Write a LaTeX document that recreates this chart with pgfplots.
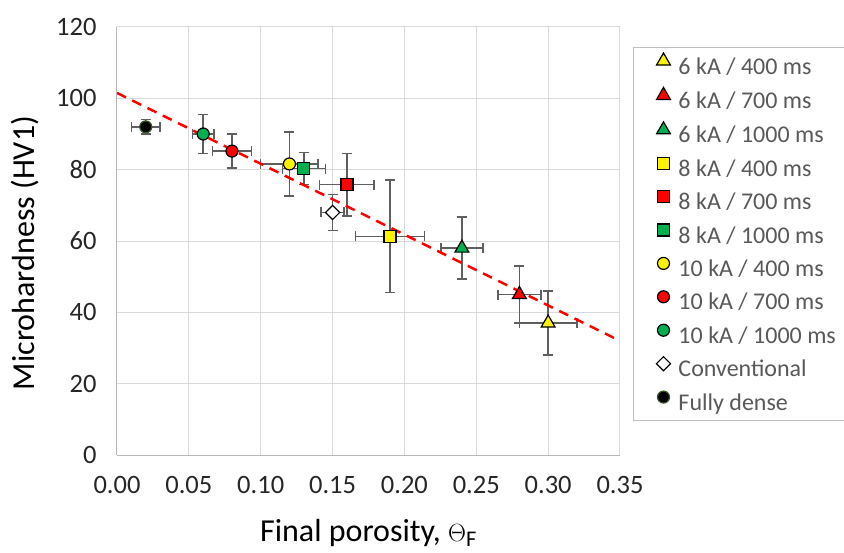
\documentclass[border=0pt]{standalone}
\usepackage{fontspec}
\setmainfont{Carlito}
\newfontfamily\serif{Liberation Serif}
\usepackage{pgfplots}
\pgfplotsset{compat=1.18}
\definecolor{egray}{HTML}{5F5F5F}
\definecolor{xgreen}{HTML}{00B050}
\definecolor{dkgreen}{HTML}{375623}
\definecolor{legtext}{HTML}{595959}
\pgfplotsset{
  eb/.style={only marks, forget plot,
    error bars/x dir=both, error bars/x explicit,
    error bars/y dir=both, error bars/y explicit,
    error bars/error bar style={line width=1.5pt, draw=egray},
    error bars/error mark options={rotate=90, line width=1.5pt, draw=egray, mark size=5pt}},
  tri/.style={only marks, mark=triangle*, mark size=8pt, mark options={fill=#1, draw=black, line width=1.2pt}},
  sq/.style={only marks, mark=square*, mark size=6pt, mark options={fill=#1, draw=black, line width=1.2pt}},
  ci/.style={only marks, mark=*, mark size=6pt, mark options={fill=#1, draw=black, line width=1.2pt}},
  dia/.style={only marks, mark=square*, mark size=5pt, mark options={fill=white, draw=black, line width=1.2pt, rotate=45}},
  dense/.style={only marks, mark=*, mark size=6pt, mark options={fill=black, draw=dkgreen, line width=1.2pt}},
}
\begin{document}
\begin{tikzpicture}
\begin{axis}[
  width=503pt, height=428pt, scale only axis,
  xmin=0, xmax=0.35, ymin=0, ymax=120,
  xtick={0,0.05,0.10,0.15,0.20,0.25,0.30,0.35},
  ytick={0,20,40,60,80,100,120},
  xticklabel style={/pgf/number format/fixed, /pgf/number format/fixed zerofill,
    /pgf/number format/precision=2, yshift=-18pt},
  /pgf/number format/assume math mode=true,
  tick label style={font=\fontsize{26.5}{30}\selectfont, text=black!85},
  yticklabel style={xshift=-17pt},
  major tick length=0pt,
  grid=major, grid style={draw=black!15, line width=1pt},
  axis x line*=bottom, axis y line*=left,
  axis line style={draw=black!28, line width=1pt, -},
  every axis y label/.style={at={(axis description cs:-0.183,0.472)}, rotate=90, anchor=center},
  every axis x label/.style={at={(axis description cs:0.5,0)}, anchor=base, yshift=-86pt},
  label style={font=\fontsize{32}{36}\selectfont},
  ylabel={Microhardness (HV1)},
  xlabel={Final porosity, {\serif $\Theta_{\mathrm{F}}$}},
  legend style={at={(rel axis cs:1,1)}, anchor=north west, xshift=13pt, yshift=-20pt,
    draw=black!25, line width=1pt, inner xsep=22pt, inner ysep=5.5pt,
    font=\fontsize{24}{28}\selectfont, text=legtext,
    nodes={inner sep=0pt, text height=17pt, text depth=5pt},
    row sep=8.4pt, column sep=7pt},
  legend cell align=left,
  legend image code/.code={\path[draw=none, fill=none] (0pt,0pt) rectangle (16pt,14pt);
    \draw[#1] plot coordinates {(8pt,7pt)};},
]
% legend entries
\addlegendimage{tri=yellow}  \addlegendentry{6 kA / 400 ms}
\addlegendimage{tri=red}     \addlegendentry{6 kA / 700 ms}
\addlegendimage{tri=xgreen}  \addlegendentry{6 kA / 1000 ms}
\addlegendimage{sq=yellow}   \addlegendentry{8 kA / 400 ms}
\addlegendimage{sq=red}      \addlegendentry{8 kA / 700 ms}
\addlegendimage{sq=xgreen}   \addlegendentry{8 kA / 1000 ms}
\addlegendimage{ci=yellow}   \addlegendentry{10 kA / 400 ms}
\addlegendimage{ci=red}      \addlegendentry{10 kA / 700 ms}
\addlegendimage{ci=xgreen}   \addlegendentry{10 kA / 1000 ms}
\addlegendimage{dia}         \addlegendentry{Conventional}
\addlegendimage{dense}       \addlegendentry{Fully dense}
% 6 kA
\addplot[tri=yellow, eb] table[x=x, y=y, x error=ex, y error=ey] {
  x y ex ey
  0.30 37 0.02 9
  };
\addplot[tri=red, eb] table[x=x, y=y, x error=ex, y error=ey] {
  x y ex ey
  0.28 45 0.015 8
  };
\addplot[tri=xgreen, eb] table[x=x, y=y, x error=ex, y error=ey] {
  x y ex ey
  0.24 58 0.0145 8.7
  };
% 8 kA
\addplot[sq=yellow, eb] table[x=x, y=y, x error=ex, y error=ey] {
  x y ex ey
  0.19 61.3 0.024 15.8
  };
\addplot[sq=red, eb] table[x=x, y=y, x error=ex, y error=ey] {
  x y ex ey
  0.16 75.8 0.019 8.8
  };
\addplot[sq=xgreen, eb] table[x=x, y=y, x error=ex, y error=ey] {
  x y ex ey
  0.13 80.3 0.015 4.5
  };
% 10 kA
\addplot[ci=yellow, eb] table[x=x, y=y, x error=ex, y error=ey] {
  x y ex ey
  0.12 81.6 0.02 9
  };
\addplot[ci=red, eb] table[x=x, y=y, x error=ex, y error=ey] {
  x y ex ey
  0.08 85.2 0.0135 4.8
  };
\addplot[ci=xgreen, eb] table[x=x, y=y, x error=ex, y error=ey] {
  x y ex ey
  0.06 90 0.0075 5.5
  };
% references
\addplot[dia, eb] table[x=x, y=y, x error=ex, y error=ey] {
  x y ex ey
  0.15 68 0.008 5
  };
\addplot[dense, eb] table[x=x, y=y, x error=ex, y error=ey] {
  x y ex ey
  0.02 92 0.01 2
  };
% linear trend
\addplot[forget plot, red, line width=2.5pt, dash pattern=on 10pt off 7pt]
  coordinates {(0,101.5) (0.35,32)};
\end{axis}
\pgfresetboundingbox
\useasboundingbox (-117pt,-97pt) rectangle (727pt,455pt);
\end{tikzpicture}
\end{document}
